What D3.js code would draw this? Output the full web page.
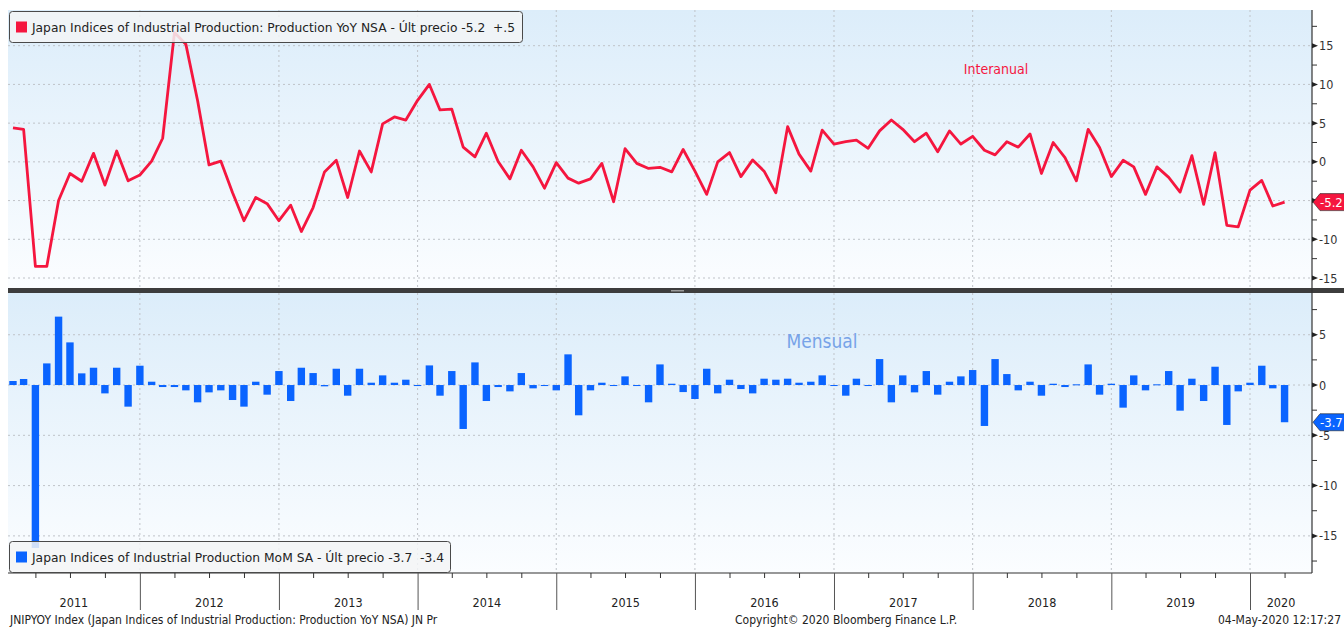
<!DOCTYPE html>
<html>
<head>
<meta charset="utf-8">
<script src="https://cdn.jsdelivr.net/npm/d3@7/dist/d3.min.js"></script>
<style>
  body { margin: 0; background: #fff; }
  text { font-family: "DejaVu Sans Condensed", "DejaVu Sans", sans-serif; }
</style>
</head>
<body>
<svg id="chart"></svg>
<script>
// monthly data, Jan 2011 .. Mar 2020 (plotted at month end)
var firstMonth = new Date(2011, 0, 1)

// YoY NSA, %
var yoy = [
  4.4, 4.2, -13.5, -13.5, -5.0, -1.5, -2.5, 1.1, -3.0, 1.4, -2.45, -1.7,      // 2011
  0.1, 3.05, 16.7, 15.2, 7.9, -0.4, 0.1, -4.0, -7.6, -4.6, -5.4, -7.6,        // 2012
  -5.6, -9.0, -5.9, -1.3, 0.2, -4.6, 1.4, -1.3, 4.9, 5.8, 5.4, 7.95,          // 2013
  10.0, 6.7, 6.8, 1.9, 0.65, 3.7, 0.05, -2.2, 1.5, -0.65, -3.4, -0.1,         // 2014
  -2.1, -2.75, -2.2, -0.2, -5.15, 1.7, -0.2, -0.85, -0.7, -1.3, 1.6, -1.2,    // 2015
  -4.2, 0.0, 1.2, -1.9, 0.25, -1.2, -4.0, 4.55, 1.0, -1.2, 4.1, 2.3,          // 2016
  2.6, 2.8, 1.75, 4.0, 5.4, 4.2, 2.6, 3.7, 1.3, 4.0, 2.3, 3.3,                // 2017
  1.5, 0.9, 2.6, 1.9, 3.6, -1.5, 2.5, 0.55, -2.45, 4.2, 1.85, -1.9,           // 2018
  0.2, -0.65, -4.2, -0.65, -2.0, -3.9, 0.8, -5.5, 1.2, -8.2, -8.4, -3.65,     // 2019
  -2.4, -5.7, -5.2                                                            // 2020
]

// MoM SA, %
var mom = [
  0.4, 0.6, -16.2, 2.15, 6.8, 4.24, 1.16, 1.72, -0.83, 1.72, -2.15, 1.92,
  0.33, -0.2, -0.2, -0.53, -1.72, -0.73, -0.53, -1.49, -2.15, 0.33, -0.96, 1.39,
  -1.59, 1.72, 1.19, -0.13, 1.62, -1.06, 1.62, 0.23, 0.96, 0.23, 0.53, -0.1,
  1.95, -1.06, 1.39, -4.37, 2.25, -1.59, -0.2, -0.63, 1.19, -0.33, -0.1, -0.53,
  3.05, -3.01, -0.53, 0.23, -0.1, 0.86, -0.1, -1.72, 2.05, 0.13, -0.7, -1.39,
  1.62, -0.83, 0.53, -0.4, -0.83, 0.63, 0.53, 0.63, 0.23, 0.33, 0.96, -0.1,
  -1.06, 0.63, -0.07, 2.58, -1.72, 0.96, -0.73, 1.39, -0.96, 0.33, 0.86, 1.49,
  -4.07, 2.58, 1.09, -0.53, 0.33, -1.06, 0.13, -0.2, 0.07, 2.05, -0.96, 0.13,
  -2.25, 0.96, -0.53, 0.07, 1.39, -2.55, 0.63, -1.59, 1.82, -3.97, -0.63, 0.23,
  1.92, -0.33, -3.7
]

var years = [2011, 2012, 2013, 2014, 2015, 2016, 2017, 2018, 2019, 2020]
var topTicks = [15, 10, 5, 0, -5, -10, -15]
var topMinor = [17.5, 12.5, 7.5, 2.5, -2.5, -7.5, -12.5]
var botTicks = [5, 0, -5, -10, -15]
var botMinor = [7.5, 2.5, -2.5, -7.5, -12.5, -17.5]

var yoyLegend = "Japan Indices of Industrial Production: Production YoY NSA - Últ precio -5.2\u00a0\u00a0+.5"
var momLegend = "Japan Indices of Industrial Production MoM SA - Últ precio -3.7\u00a0\u00a0-3.4"

var width = 1344,
  height = 627

var red = "#f5163f",
  blue = "#0a64ff",
  left = 8,
  right = 1312,
  topY0 = 10, topY1 = 288,
  botY0 = 293, botY1 = 573

var svg = d3.select("#chart")
  .attr("width", width)
  .attr("height", height)

var defs = svg.append("defs")
var grad = defs.append("linearGradient")
  .attr("id", "bg")
  .attr("x1", 0).attr("y1", 0).attr("x2", 0).attr("y2", 1)
grad.append("stop").attr("offset", "0%").attr("stop-color", "#dcedfa")
grad.append("stop").attr("offset", "100%").attr("stop-color", "#fbfdff")

// scales
var x = d3.scaleTime()
  .domain([new Date(2011, 0, 1), new Date(2020, 0, 1)])
  .range([1.2, 1250])

var yTop = d3.scaleLinear()
  .domain([-16.29, 19.61])
  .range([topY1, topY0])

var yBot = d3.scaleLinear()
  .domain([-18.69, 9.15])
  .range([botY1, botY0])

function monthEnd(i) {
  return d3.timeMonth.offset(firstMonth, i + 1)
}

/*
 * Panels
 */

svg.append("rect")
  .attr("x", left).attr("y", topY0)
  .attr("width", right - left).attr("height", topY1 - topY0)
  .style("fill", "url(#bg)")

svg.append("rect")
  .attr("x", left).attr("y", botY0)
  .attr("width", right - left).attr("height", botY1 - botY0)
  .style("fill", "url(#bg)")

// grid
var yearStarts = years.slice(1).map(function (d) { return new Date(d, 0, 1) })

function grid(scale, ticks, y0, y1) {
  var g = svg.append("g").attr("class", "grid")
  g.selectAll("line.h")
    .data(ticks)
    .enter()
    .append("line")
    .attr("x1", left).attr("x2", right)
    .attr("y1", function (d) { return scale(d) })
    .attr("y2", function (d) { return scale(d) })
  g.selectAll("line.v")
    .data(yearStarts)
    .enter()
    .append("line")
    .attr("x1", function (d) { return x(d) })
    .attr("x2", function (d) { return x(d) })
    .attr("y1", y0).attr("y2", y1)
  g.selectAll("line")
    .style("stroke", "#bfc3c8")
    .style("stroke-width", 1)
    .style("stroke-dasharray", "2,3")
}
grid(yTop, topTicks, topY0, topY1)
grid(yBot, botTicks, botY0, botY1)

/*
 * YoY line
 */

var line = d3.line()
  .x(function (d, i) { return x(monthEnd(i)) })
  .y(function (d) { return yTop(d) })

svg.append("path")
  .datum(yoy)
  .attr("d", line)
  .style("fill", "none")
  .style("stroke", red)
  .style("stroke-width", 2.8)
  .style("stroke-linejoin", "round")

/*
 * MoM bars
 */

var barW = 7.4
svg.append("g")
  .selectAll("rect.bar")
  .data(mom)
  .enter()
  .append("rect")
  .attr("class", "bar")
  .attr("x", function (d, i) { return x(monthEnd(i)) - barW / 2 })
  .attr("width", barW)
  .attr("y", function (d) { return yBot(Math.max(0, d)) })
  .attr("height", function (d) { return Math.max(1, Math.abs(yBot(d) - yBot(0))) })
  .style("fill", blue)

// separator between the panels
svg.append("rect")
  .attr("x", left).attr("y", topY1)
  .attr("width", width - left).attr("height", botY0 - topY1)
  .style("fill", "#3d3d3d")
svg.append("rect")
  .attr("x", 671).attr("y", topY1 + 2)
  .attr("width", 13).attr("height", 1.5)
  .style("fill", "#9a9a9a")

// annotations
svg.append("text")
  .attr("x", 996).attr("y", 74)
  .attr("text-anchor", "middle")
  .style("font-size", "14px")
  .style("fill", red)
  .text("Interanual")

svg.append("text")
  .attr("x", 822).attr("y", 348)
  .attr("text-anchor", "middle")
  .style("font-size", "19px")
  .style("fill", "#77a3e8")
  .text("Mensual")

/*
 * Right axes
 */

svg.append("line")
  .attr("x1", right).attr("x2", right)
  .attr("y1", topY0).attr("y2", botY1)
  .style("stroke", "#333")
  .style("stroke-width", 1.2)

function rightAxis(scale, ticks, minor, hidden) {
  var g = svg.append("g").attr("transform", "translate(" + right + ",0)")
  g.selectAll("line.minor")
    .data(minor)
    .enter()
    .append("line")
    .attr("x1", 0).attr("x2", 5)
    .attr("y1", function (d) { return scale(d) })
    .attr("y2", function (d) { return scale(d) })
    .style("stroke", "#333")
  g.selectAll("path.tri")
    .data(ticks)
    .enter()
    .append("path")
    .attr("d", function (d) {
      var y = scale(d)
      return "M0," + (y - 2.5) + "L6," + y + "L0," + (y + 2.5) + "Z"
    })
    .style("fill", "#222")
  // a label sitting under a last-value tag is covered by it
  g.selectAll("text")
    .data(ticks.filter(function (d) { return d !== hidden }))
    .enter()
    .append("text")
    .attr("x", 7)
    .attr("y", function (d) { return scale(d) })
    .attr("dy", "0.36em")
    .style("font-size", "12.5px")
    .style("fill", "#333")
    .text(function (d) { return d })
}
rightAxis(yTop, topTicks, topMinor, -5)
rightAxis(yBot, botTicks, botMinor, null)

// last-value tags
function tag(y, label, color) {
  var g = svg.append("g").attr("transform", "translate(" + right + "," + y + ")")
  g.append("path")
    .attr("d", "M1,0L8,-8.5L40,-8.5L40,8.5L8,8.5Z")
    .style("fill", color)
    .style("stroke", "#222")
    .style("stroke-width", 0.6)
  g.append("text")
    .attr("x", 8).attr("y", 0).attr("dy", "0.36em")
    .style("font-size", "13px")
    .style("fill", "#fff")
    .text(label)
}
tag(yTop(yoy[yoy.length - 1]), yoy[yoy.length - 1].toFixed(1), red)
tag(yBot(mom[mom.length - 1]), mom[mom.length - 1].toFixed(1), blue)

/*
 * Bottom axis
 */

svg.append("line")
  .attr("x1", left).attr("x2", right)
  .attr("y1", botY1).attr("y2", botY1)
  .style("stroke", "#333")
  .style("stroke-width", 1.2)

var quarters = d3.timeMonth.every(3).range(new Date(2011, 0, 1), new Date(2020, 6, 1))
  .filter(function (d) { return d.getMonth() !== 0 })

svg.append("g")
  .attr("transform", "translate(0," + botY1 + ")")
  .call(d3.axisBottom(x).tickValues(quarters).tickSize(5).tickFormat(""))
  .call(function (g) { g.select(".domain").remove() })
  .selectAll("line").style("stroke", "#333")

svg.append("g")
  .attr("transform", "translate(0," + botY1 + ")")
  .call(d3.axisBottom(x).tickValues(yearStarts).tickSize(37).tickFormat(""))
  .call(function (g) { g.select(".domain").remove() })
  .selectAll("line").style("stroke", "#555")

svg.append("g")
  .selectAll("text")
  .data(years)
  .enter()
  .append("text")
  .attr("x", function (d) {
    var a = Math.max(x(new Date(d, 0, 1)), left)
    var b = Math.min(x(new Date(d + 1, 0, 1)), right)
    return (a + b) / 2
  })
  .attr("y", 607)
  .attr("text-anchor", "middle")
  .style("font-size", "12.5px")
  .style("fill", "#222")
  .text(function (d) { return d })

/*
 * Legends
 */

function legend(y, w, color, label, textW) {
  var g = svg.append("g")
  g.append("rect")
    .attr("x", 9.5).attr("y", y)
    .attr("width", w).attr("height", 31)
    .attr("rx", 3)
    .style("fill", "#f3f4f6")
    .style("fill-opacity", 0.85)
    .style("stroke", "#4a4a4a")
    .style("stroke-width", 1)
  g.append("rect")
    .attr("x", 16).attr("y", y + 10)
    .attr("width", 11).attr("height", 11)
    .style("fill", color)
  g.append("text")
    .attr("x", 32).attr("y", y + 20.5)
    .attr("textLength", textW)
    .attr("lengthAdjust", "spacingAndGlyphs")
    .style("font-size", "13px")
    .style("fill", "#222")
    .text(label)
}
legend(11.5, 513, red, yoyLegend, 483)
legend(541.5, 441, blue, momLegend, 412)

/*
 * Footer
 */

svg.append("text")
  .attr("x", 10).attr("y", 624)
  .style("font-size", "12px")
  .style("fill", "#222")
  .text("JNIPYOY Index (Japan Indices of Industrial Production: Production YoY NSA) JN Pr")

svg.append("text")
  .attr("x", 735).attr("y", 624)
  .style("font-size", "12px")
  .style("fill", "#222")
  .text("Copyright© 2020 Bloomberg Finance L.P.")

svg.append("text")
  .attr("x", 1341).attr("y", 624)
  .attr("text-anchor", "end")
  .style("font-size", "12px")
  .style("fill", "#222")
  .text("04-May-2020 12:17:27")
</script>
</body>
</html>
